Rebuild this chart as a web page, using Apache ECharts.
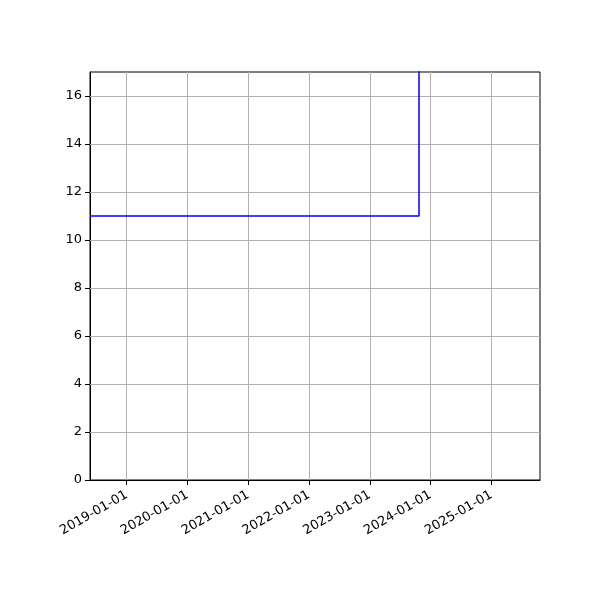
<!DOCTYPE html>
<html><head><meta charset="utf-8">
<script src="https://cdn.jsdelivr.net/npm/echarts@6/dist/echarts.min.js"></script>
<style>html,body{margin:0;padding:0;background:#fff}#c{width:600px;height:600px}</style>
</head><body><div id="c"></div>
<script>
// Data
const stepDates = ['2018-05-26', '2023-10-24', '2025-10-20'];
const stepValues = [11, 20, 20];
const xTickLabels = ['2019-01-01','2020-01-01','2021-01-01','2022-01-01','2023-01-01','2024-01-01','2025-01-01'];
const yTicks = [0, 2, 4, 6, 8, 10, 12, 14, 16];
const xRange = ['2018-05-26', '2025-10-20'];
const yRange = [0, 17];

function ts(s){ const p = s.split('-').map(Number); return Date.UTC(p[0], p[1]-1, p[2]); }
function fmt(v){ const d = new Date(v); const p = n => String(n).padStart(2,'0');
  return d.getUTCFullYear() + '-' + p(d.getUTCMonth()+1) + '-' + p(d.getUTCDate()); }

const xTicks = xTickLabels.map(ts);
const seriesData = stepDates.map((d, i) => [ts(d), stepValues[i]]);

const chart = echarts.init(document.getElementById('c'), null, {renderer: 'canvas'});
const font = {fontFamily: 'DejaVu Sans', fontSize: 13, color: '#000'};
chart.setOption({
  animation: false,
  grid: {left: 90, right: 60, top: 72, bottom: 120, show: true, borderColor: '#000', borderWidth: 1, backgroundColor: 'transparent'},
  xAxis: {
    type: 'value', min: ts(xRange[0]), max: ts(xRange[1]),
    axisLine: {show: true, lineStyle: {color: '#000', width: 1}},
    axisTick: {show: true, length: 5, lineStyle: {color: '#000'}, customValues: xTicks},
    axisLabel: Object.assign({rotate: 30, margin: 14, customValues: xTicks, formatter: v => fmt(v)}, font),
    splitLine: {show: false}
  },
  yAxis: {
    type: 'value', min: yRange[0], max: yRange[1],
    axisLine: {show: true, lineStyle: {color: '#000', width: 1}},
    axisTick: {show: true, length: 5, lineStyle: {color: '#000'}, customValues: yTicks},
    axisLabel: Object.assign({margin: 8, customValues: yTicks}, font),
    splitLine: {show: false}
  },
  series: [
    {
      type: 'line', data: [], silent: true, z: 1,
      markLine: {
        silent: true, symbol: 'none', label: {show: false}, animation: false,
        lineStyle: {color: '#b0b0b0', width: 1, type: 'solid'},
        data: xTicks.map(v => ({xAxis: v})).concat(yTicks.filter(v => v > 0).map(v => ({yAxis: v})))
      }
    },
    {
      type: 'line', data: seriesData, step: 'end', showSymbol: false, clip: true, z: 5,
      lineStyle: {color: '#0000ff', width: 1.5}
    }
  ]
});
</script></body></html>
